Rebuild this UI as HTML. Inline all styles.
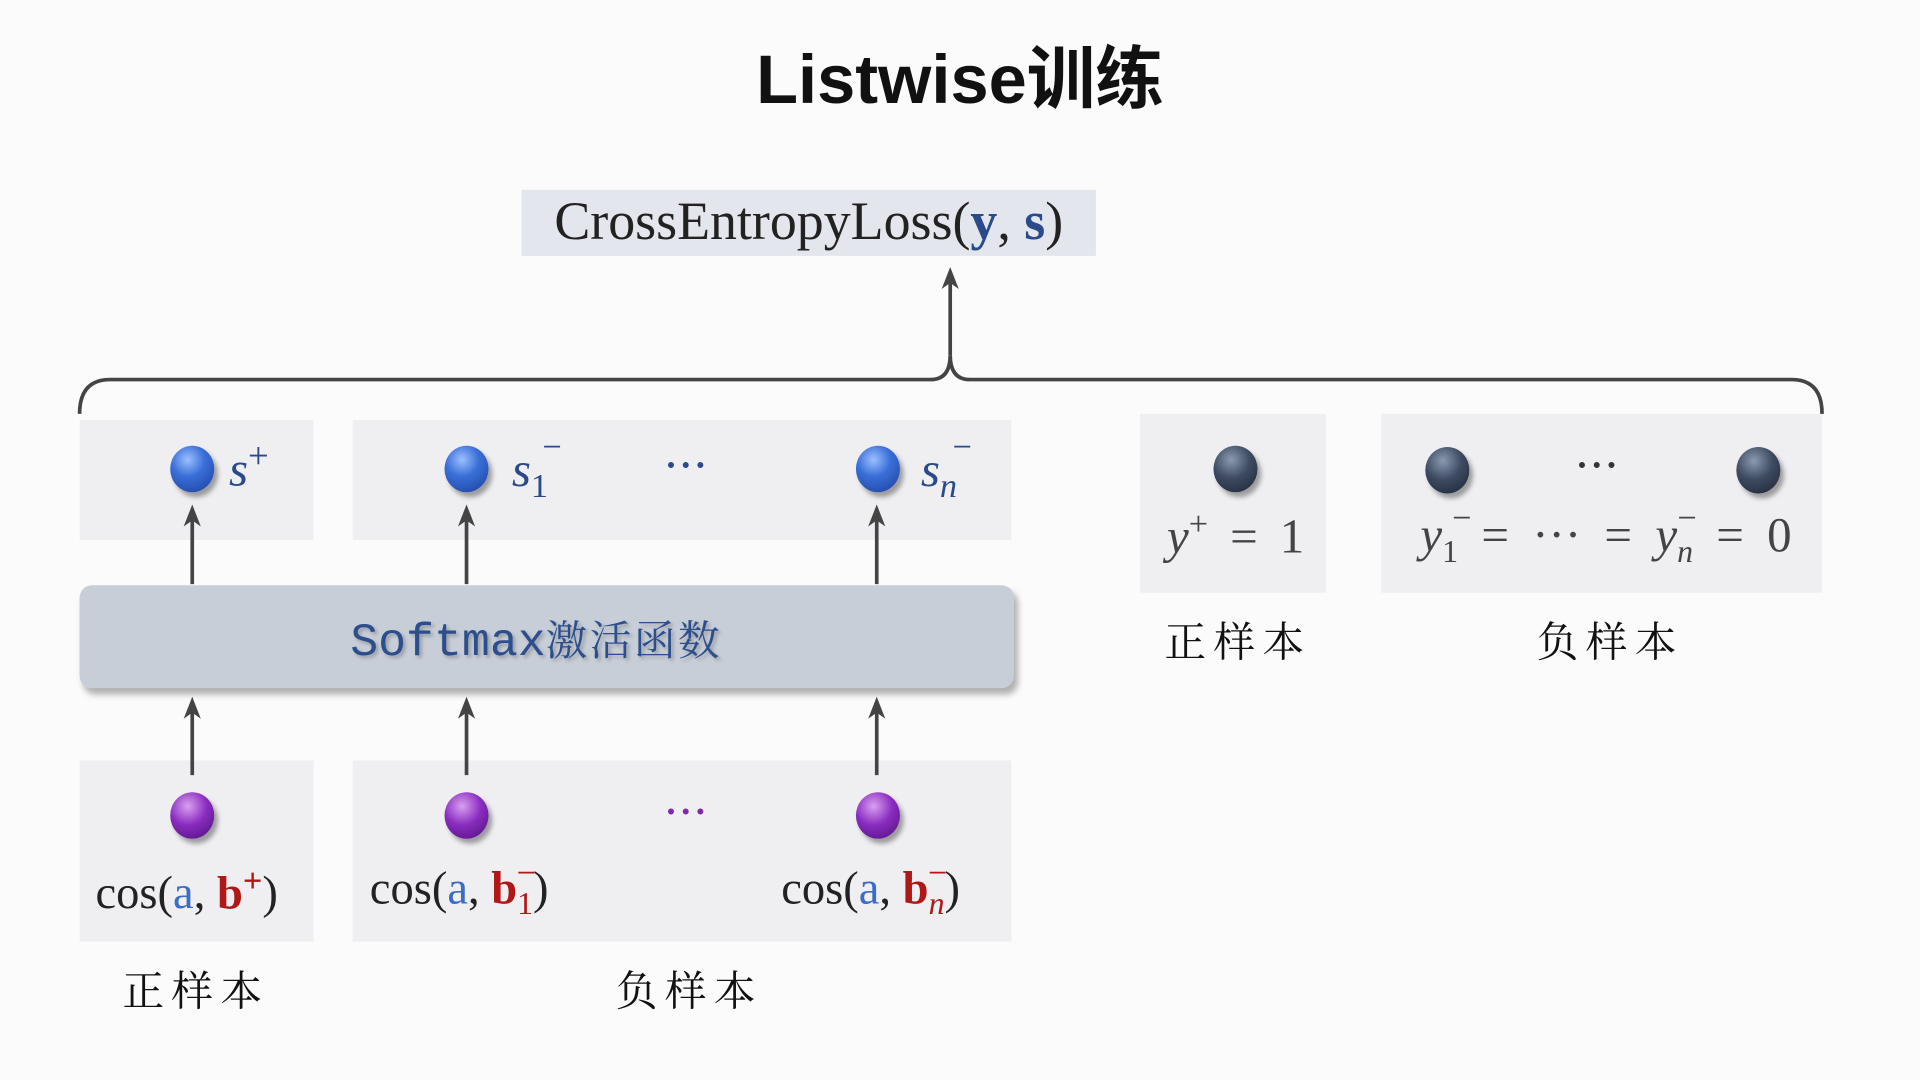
<!DOCTYPE html>
<html><head><meta charset="utf-8"><style>
html,body{margin:0;padding:0;background:#fcfbfc;overflow:hidden}
#w{position:absolute;left:0;top:0;width:1568px;height:882px;transform:scale(1.22449,1.22449);transform-origin:0 0;background:#fcfbfc}
.a{position:absolute}
.box{position:absolute;background:#efeef1}
.serif{font-family:"Liberation Serif","DejaVu Serif",serif}
.cjk{font-family:"Liberation Serif","Noto Serif CJK SC",serif;font-size:34px;color:#111;letter-spacing:6px}
.ball{position:absolute;width:36px;height:38px;border-radius:50%;box-shadow:3px 4px 4px rgba(0,0,0,.35)}
.blue{background:radial-gradient(circle at 40% 30%,#9cc0ff 0,#3a6fd8 40%,#1a3e9a 100%)}
.pur{background:radial-gradient(circle at 40% 30%,#d9a0f0 0,#8a2cc0 45%,#4c0f78 100%)}
.dk{background:radial-gradient(circle at 40% 30%,#8a9ab0 0,#3d4a60 45%,#1c2434 100%)}
.m{font-family:"Liberation Serif","DejaVu Serif",serif;font-style:italic;color:#2a4a8a;font-size:40px}
.k{font-family:"Liberation Serif",serif;color:#222;font-size:38px}
.mn{position:absolute;font-family:"Liberation Serif",serif;font-size:28px}
</style></head><body><div id="w">
<div class="a" style="left:0;width:1568px;top:20px;text-align:center;font:bold 56px 'Liberation Sans','Noto Sans CJK SC',sans-serif;color:#111;">Listwise训练</div>
<div class="box" style="left:426px;top:155px;width:469px;height:54px;background:#e3e6ec"></div>
<div class="a serif" style="left:426px;top:155px;width:469px;text-align:center;font-size:44px;color:#222">CrossEntropyLoss(<b style="color:#2a4a8a">y</b>, <b style="color:#2a4a8a">s</b>)</div>
<div class="box" style="left:65px;top:343px;width:191px;height:98px"></div>
<div class="box" style="left:288px;top:343px;width:538px;height:98px"></div>
<div class="box" style="left:65px;top:621px;width:191px;height:148px"></div>
<div class="box" style="left:288px;top:621px;width:538px;height:148px"></div>
<div class="box" style="left:931px;top:338px;width:152px;height:146px"></div>
<div class="box" style="left:1128px;top:338px;width:360px;height:146px"></div>
<svg class="a" style="left:0;top:0" width="1568" height="882">
<g fill="none" stroke="#444" stroke-width="3">
<path d="M65 338 Q65 310 90 310 L760 310 Q776 310 776 290 Q776 310 792 310 L1463 310 Q1488 310 1488 338"/>
<line x1="776" y1="290" x2="776" y2="224"/>
<line x1="157" y1="477" x2="157" y2="418"/><line x1="381" y1="477" x2="381" y2="418"/><line x1="716" y1="477" x2="716" y2="418"/>
<line x1="157" y1="633" x2="157" y2="575"/><line x1="381" y1="633" x2="381" y2="575"/><line x1="716" y1="633" x2="716" y2="575"/>
</g>
<g fill="#444">
<path d="M776 218 l-7 18 l7 -5 l7 5z"/>
<path d="M157 412 l-7 18 l7-5 l7 5z"/><path d="M381 412 l-7 18 l7-5 l7 5z"/><path d="M716 412 l-7 18 l7-5 l7 5z"/>
<path d="M157 569 l-7 18 l7-5 l7 5z"/><path d="M381 569 l-7 18 l7-5 l7 5z"/><path d="M716 569 l-7 18 l7-5 l7 5z"/>
</g></svg>
<div class="a" style="left:65px;top:478px;width:763px;height:84px;border-radius:10px;background:#c8ced8;box-shadow:3px 5px 5px rgba(0,0,0,.3)"></div>
<div class="a" style="left:286px;top:496px;white-space:nowrap;font:38px 'Liberation Mono','Noto Sans CJK SC',monospace;color:#2d4e8c;text-shadow:2px 2px 3px rgba(0,0,0,.25)">Softmax<span style="font-family:'Noto Serif CJK SC',serif;font-size:34px;letter-spacing:2px">激活函数</span></div>
<div class="ball blue" style="left:139px;top:364px"></div>
<div class="ball blue" style="left:363px;top:364px"></div>
<div class="ball blue" style="left:699px;top:364px"></div>
<div class="ball pur" style="left:139px;top:647px"></div>
<div class="ball pur" style="left:363px;top:647px"></div>
<div class="ball pur" style="left:699px;top:647px"></div>
<div class="ball dk" style="left:991px;top:364px"></div>
<div class="ball dk" style="left:1164px;top:365px"></div>
<div class="ball dk" style="left:1418px;top:365px"></div>
<div class="a m" style="left:187px;top:356px">s<sup style="font-style:normal;font-size:30px">+</sup></div>
<div class="a m" style="left:418px;top:360px">s<sub style="font-style:normal;font-size:28px">1</sub></div><div class="mn" style="left:443px;top:350px;color:#2a4a8a">−</div>
<div class="a m" style="left:752px;top:360px">s<sub style="font-size:28px">n</sub></div><div class="mn" style="left:778px;top:350px;color:#2a4a8a">−</div>
<div class="a" style="left:543px;top:364px;font:bold 30px 'Liberation Serif',serif;color:#2a4a8a;letter-spacing:2px">···</div>
<div class="a" style="left:543px;top:647px;font:bold 30px 'Liberation Serif',serif;color:#7a2aaa;letter-spacing:2px">···</div>
<div class="a" style="left:1287px;top:364px;font:bold 30px 'Liberation Serif',serif;color:#333;letter-spacing:2px">···</div>
<div class="a k" style="left:78px;top:704px">cos(<span style="color:#3a6cc8">a</span>, <b style="color:#b01818">b<sup style="font-size:28px">+</sup></b>)</div>
<div class="a k" style="left:302px;top:704px">cos(<span style="color:#3a6cc8">a</span>, <b style="color:#b01818">b<sub style="font-size:26px;font-weight:normal">1</sub></b>)</div><div class="mn" style="left:422px;top:698px;color:#b01818">−</div>
<div class="a k" style="left:638px;top:704px">cos(<span style="color:#3a6cc8">a</span>, <b style="color:#b01818">b<sub style="font-size:26px;font-style:italic;font-weight:normal">n</sub></b>)</div><div class="mn" style="left:758px;top:698px;color:#b01818">−</div>
<div class="a k" style="left:953px;top:413px;color:#444;font-size:40px;word-spacing:8px"><i>y</i><sup style="font-size:28px">+</sup> = 1</div>
<div class="a k" style="left:1160px;top:413px;color:#444;font-size:40px;word-spacing:9px"><i>y</i><sub style="font-size:26px">1</sub> = ··· = <i>y<sub style="font-size:26px">n</sub></i> = 0</div>
<div class="mn" style="left:1186px;top:408px;color:#444">−</div>
<div class="mn" style="left:1370px;top:408px;color:#444">−</div>
<div class="a cjk" style="left:100px;top:782px">正样本</div>
<div class="a cjk" style="left:503px;top:782px">负样本</div>
<div class="a cjk" style="left:951px;top:497px">正样本</div>
<div class="a cjk" style="left:1255px;top:497px">负样本</div>
</div></body></html>
